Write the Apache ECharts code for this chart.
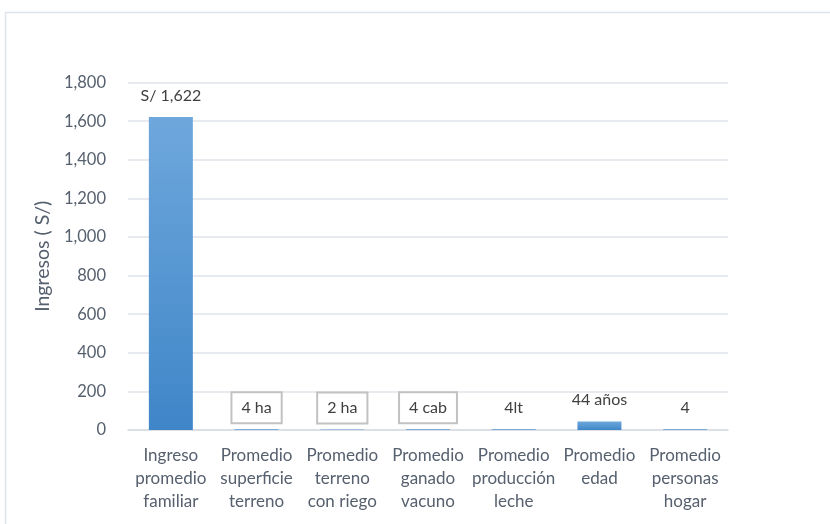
<!DOCTYPE html>
<html>
<head>
<meta charset="utf-8">
<script src="https://cdn.jsdelivr.net/npm/echarts@6/dist/echarts.min.js"></script>
<style>
  html, body { margin: 0; padding: 0; background: #fff; }
  #chart { width: 830px; height: 524px; }
</style>
</head>
<body>
<div id="chart"></div>
<script>
// Indicadores promedio por hogar
const categories = [
  'Ingreso\npromedio\nfamiliar',
  'Promedio\nsuperficie\nterreno',
  'Promedio\nterreno\ncon riego',
  'Promedio\nganado\nvacuno',
  'Promedio\nproducción\nleche',
  'Promedio\nedad',
  'Promedio\npersonas\nhogar'
];
const values = [1622, 4, 2, 4, 4, 44, 4];
const labelPrefix = ['S/ ', '', '', '', '', '', ''];
const labelSuffix = ['', ' ha', ' ha', ' cab', 'lt', ' años', ''];
const boxedLabel = [false, true, true, true, false, false, false];
const yTicks = { min: 0, max: 1800, interval: 200 };

const textColor = '#56606e';
const fontFamily = 'Lato, "Open Sans", sans-serif';

const barFill = new echarts.graphic.LinearGradient(0, 0, 0, 1, [
  { offset: 0, color: '#6ea7dc' },
  { offset: 1, color: '#3f86c8' }
]);

const data = values.map((v, i) => ({
  value: v,
  label: {
    borderColor: boxedLabel[i] ? '#c2c2c2' : 'transparent',
    borderWidth: boxedLabel[i] ? 2 : 0
  }
}));

const chart = echarts.init(document.getElementById('chart'), null, { renderer: 'canvas' });
chart.setOption({
  backgroundColor: '#fff',
  textStyle: { fontFamily },
  graphic: [{
    type: 'rect',
    shape: { x: 5.5, y: 12.5, width: 900, height: 600 },
    style: { fill: 'none', stroke: '#dfe3ea', lineWidth: 1.5 },
    silent: true
  }],
  grid: { left: 128, right: 102, top: 82.6, bottom: 94 },
  xAxis: {
    type: 'category',
    data: categories,
    axisTick: { show: false },
    axisLine: { lineStyle: { color: '#d9dde3', width: 1.5 } },
    axisLabel: {
      color: textColor, fontSize: 17, fontFamily, lineHeight: 23,
      margin: 14, interval: 0
    }
  },
  yAxis: {
    type: 'value',
    min: yTicks.min, max: yTicks.max, interval: yTicks.interval,
    name: 'Ingresos ( S/)',
    nameLocation: 'middle',
    nameGap: 74,
    nameRotate: 90,
    nameTextStyle: { color: textColor, fontSize: 19.5, fontFamily },
    axisLabel: {
      color: textColor, fontSize: 16.5, fontFamily, margin: 22,
      formatter: v => v.toLocaleString('en-US')
    },
    splitLine: { lineStyle: { color: '#dfe3ea', width: 1.5 } },
    axisLine: { show: false },
    axisTick: { show: false }
  },
  series: [{
    type: 'bar',
    data,
    barWidth: 44,
    itemStyle: { color: barFill },
    label: {
      show: true,
      position: 'top',
      distance: 6,
      color: '#404040',
      fontSize: 16,
      lineHeight: 18,
      fontFamily,
      padding: [6.5, 10],
      formatter: p => labelPrefix[p.dataIndex] + p.value.toLocaleString('en-US') + labelSuffix[p.dataIndex]
    },
    animation: false
  }],
  animation: false
});
</script>
</body>
</html>
